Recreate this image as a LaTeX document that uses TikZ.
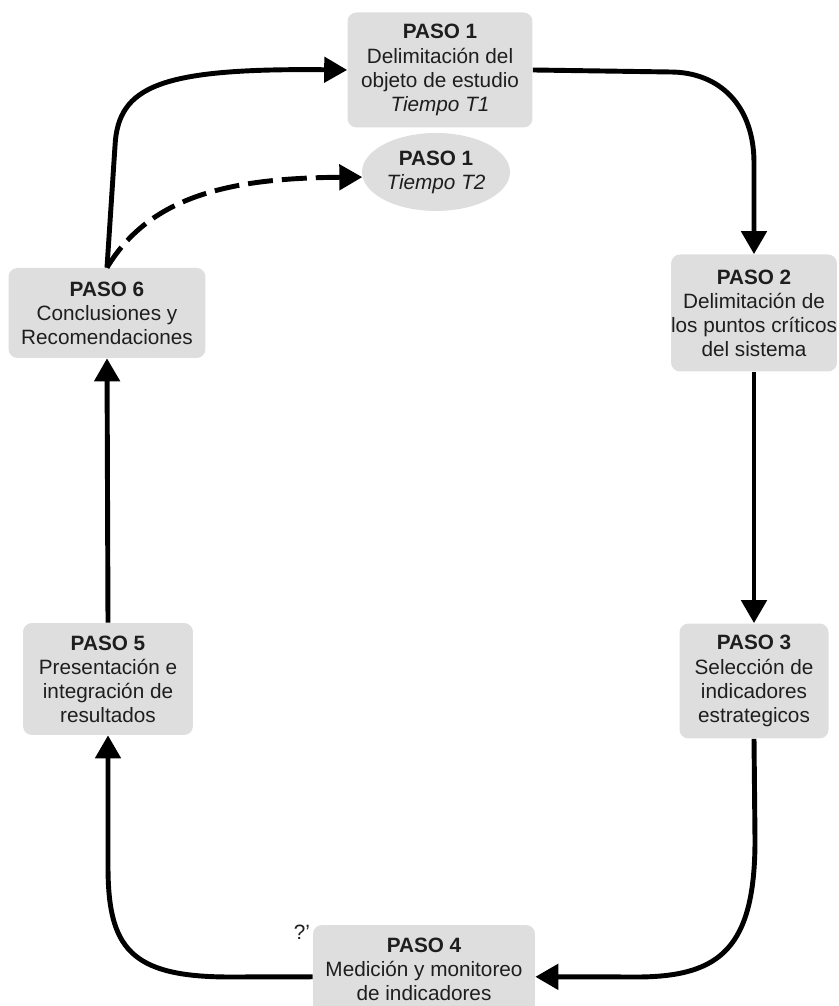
\documentclass[tikz,border=0pt]{standalone}
\usepackage{fontspec}
\setmainfont{Liberation Sans}
\usetikzlibrary{arrows.meta,shapes.geometric}
\definecolor{pasogray}{HTML}{DEDEDE}
\definecolor{pasotext}{HTML}{1E1E1E}
\newcommand{\pasofont}{\fontsize{11.8}{13.7}\selectfont}
\tikzset{
    paso box/.style={fill=pasogray,rounded corners=0.18cm,align=center,text=pasotext,inner sep=0pt,font=\pasofont},
    paso oval/.style={ellipse,fill=pasogray,align=center,text=pasotext,inner sep=0pt,font=\pasofont},
    arr/.style={-{Triangle[length=0.46cm,width=0.5cm]},line width=2.8pt},
    darr/.style={arr,dash pattern=on 0.5cm off 0.18cm},
}

\begin{document}
\begin{tikzpicture}[x=0.02cm,y=0.02cm]
    \useasboundingbox (0,0) rectangle (838,1006);
    \clip (0,0) rectangle (838,1006);

    \node[font=\pasofont,text=pasotext] (qm) at (302,74) {?'};

    \node[paso box,minimum width=3.7cm,minimum height=2.3cm] (p1) at (440,936)
        {\textbf{PASO 1}\\Delimitación del\\objeto de estudio\\\textit{Tiempo T1}};
    \node[paso oval,minimum width=2.96cm,minimum height=1.56cm] (t2) at (436,834)
        {\textbf{PASO 1}\\\textit{Tiempo T2}};
    \node[paso box,minimum width=3.12cm,minimum height=2.34cm] (p2) at (754,693)
        {\textbf{PASO 2}\\Delimitación de\\los puntos críticos\\del sistema};
    \node[paso box,minimum width=2.98cm,minimum height=2.3cm] (p3) at (754,325)
        {\textbf{PASO 3}\\Selección de\\indicadores\\estrategicos};
    \node[paso box,minimum width=4.44cm,minimum height=1.76cm] (p4) at (424,37)
        {\textbf{PASO 4}\\Medición y monitoreo\\de indicadores};
    \node[paso box,minimum width=3.4cm,minimum height=2.24cm] (p5) at (108,327)
        {\textbf{PASO 5}\\Presentación e\\integración de\\resultados};
    \node[paso box,minimum width=3.94cm,minimum height=1.8cm] (p6) at (107,693)
        {\textbf{PASO 6}\\Conclusiones y\\Recomendaciones};

    % ciclo
    \draw[arr] (p1.east) -- (670,934) .. controls (720,934) and (754,900) .. (754,843) -- (p2.north);
    \draw[arr] (p2.south) -- (p3.north);
    \draw[arr] (p3.south) -- (755,166) .. controls (755,58) and (720,30) .. (640,29) -- (p4.-4);
    \draw[arr] (p4.184) -- (230,29) .. controls (130,29) and (108,58) .. (108,140) -- (p5.south);
    \draw[arr] (p5.north) -- (p6.south);
    \draw[arr] (p6.north) -- (115,860) .. controls (118,920) and (160,938) .. (p1.west);

    % segunda vuelta
    \draw[darr] (p6.north) .. controls (150,810) and (230,828) .. (t2.184);
\end{tikzpicture}
\end{document}
